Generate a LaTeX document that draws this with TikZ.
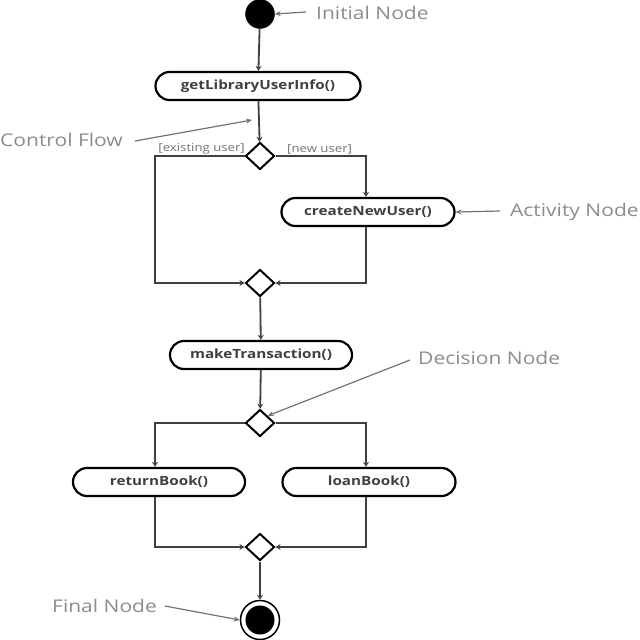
\documentclass[tikz,border=0pt]{standalone}
\usepackage{fontspec}
\setmainfont{Open Sans}
\newfontfamily\widefont[FakeStretch=1.2]{Open Sans}
\usetikzlibrary{arrows.meta,shapes.geometric}
\begin{document}
\begin{tikzpicture}[x=1pt,y=-1pt,
  act/.style={draw=black,line width=2.2pt,rounded corners=14pt,minimum height=28pt,inner sep=0pt,font=\widefont\fontsize{12.7}{12.7}\selectfont\bfseries,text=black!75},
  dec/.style={draw=black,line width=2pt,diamond,minimum width=29pt,minimum height=27pt,inner sep=0pt,fill=white},
  flow/.style={draw=black!75,line width=1.8pt},
  flowa/.style={flow,-{Stealth[length=5pt,width=6pt,open]}},
  lbl/.style={text=black!45,font=\widefont\fontsize{17.5}{17.5}\selectfont,inner sep=0pt},
  lblarr/.style={draw=black!55,line width=1.2pt,-{Stealth[length=6pt,width=5pt]}},
  guard/.style={text=black!55,font=\widefont\fontsize{11}{11}\selectfont,inner sep=1pt}]
\path[use as bounding box,fill=white] (0,0) rectangle (640,640);
% nodes
\node[circle,fill=black,draw=black,minimum size=29pt,inner sep=0pt] (init) at (260,14) {};
\node[act,minimum width=205pt] (get) at (258,86) {getLibraryUserInfo()};
\node[dec] (d1) at (260,156) {};
\node[act,minimum width=173pt] (create) at (368,212) {createNewUser()};
\node[dec] (d2) at (260,283) {};
\node[act,minimum width=182pt] (make) at (261,355) {makeTransaction()};
\node[dec] (d3) at (260,423) {};
\node[act,minimum width=172pt] (ret) at (159,482) {returnBook()};
\node[act,minimum width=173pt] (loan) at (369,482) {loanBook()};
\node[dec] (d4) at (260,547) {};
\node[circle,draw=black,line width=1.5pt,minimum size=39pt,inner sep=0pt] (fin) at (260,620) {};
\node[circle,fill=black,minimum size=29pt,inner sep=0pt] (fininner) at (260,620) {};
% guards
\node[guard,anchor=south east] (g1) at (246,155) {[existing user]};
\node[guard,anchor=south west] (g2) at (286,155) {[new user]};
% flows
\draw[flowa] (init) -- (get);
\draw[flowa] (get) -- (d1);
\coordinate (c1l) at (155,156);
\coordinate (c1r) at (366,156);
\coordinate (c2l) at (155,283);
\coordinate (c2r) at (366,283);
\draw[flowa] (d1.east) -- (c1r) -- (create.north -| c1r);
\draw[flowa] (d1.west) -- (c1l) -- (c2l) -- (d2.west);
\draw[flowa] (create.south -| c2r) -- (c2r) -- (d2.east);
\draw[flowa] (d2) -- (make);
\draw[flowa] (make) -- (d3);
\coordinate (c3l) at (155,423);
\coordinate (c3r) at (366,423);
\coordinate (c4l) at (155,547);
\coordinate (c4r) at (366,547);
\draw[flowa] (d3.west) -- (c3l) -- (ret.north -| c3l);
\draw[flowa] (d3.east) -- (c3r) -- (loan.north -| c3r);
\draw[flowa] (ret.south -| c4l) -- (c4l) -- (d4.west);
\draw[flowa] (loan.south -| c4r) -- (c4r) -- (d4.east);
\draw[flowa] (d4) -- (fin);
% labels
\node[lbl,anchor=west] (linit) at (316,13) {Initial Node};
\node[lbl,anchor=west] (lcf) at (0,140) {Control Flow};
\node[lbl,anchor=west] (lact) at (510,212) {Activity Node};
\node[lbl,anchor=west] (ldec) at (418,358) {Decision Node};
\node[lbl,anchor=west] (lfin) at (52,606) {Final Node};
\coordinate (pcf) at (252,120);
\coordinate (a1) at (306,12);
\coordinate (a2) at (135,141);
\coordinate (a3) at (500,211);
\coordinate (a4) at (410,360);
\coordinate (a5) at (165,606);
\draw[lblarr] (a1) -- (init.east);
\draw[lblarr] (a2) -- (pcf);
\draw[lblarr] (a3) -- (create.east);
\draw[lblarr] (a4) -- (d3.north east);
\draw[lblarr] (a5) -- (fin.west);
\end{tikzpicture}
\end{document}
